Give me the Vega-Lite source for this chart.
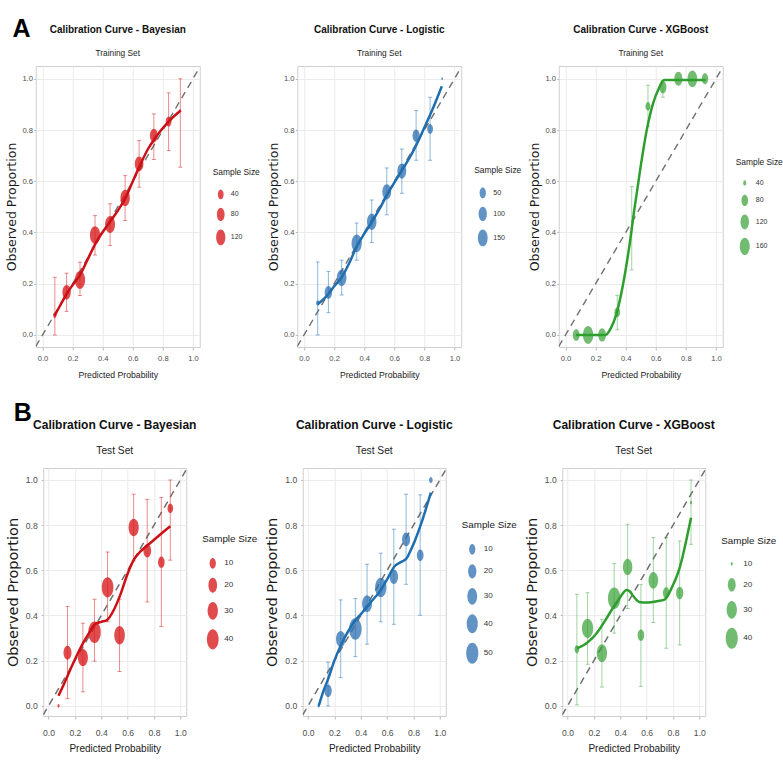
{
"$schema": "https://vega.github.io/schema/vega-lite/v6.json",
"padding": {"left": 4.5, "top": 17, "right": 0, "bottom": 0},
"background": "white",
"datasets": {
"diagT": [{"x": -0.045, "y": -0.045}, {"x": 1.045, "y": 1.045}],
"diagB": [{"x": -0.04, "y": -0.04}, {"x": 1.045, "y": 1.045}],
"A1p": [
{"x": 0.082, "y": 0.077, "lo": 0.0, "hi": 0.225, "n": 13},
{"x": 0.16, "y": 0.167, "lo": 0.092, "hi": 0.241, "n": 96},
{"x": 0.249, "y": 0.215, "lo": 0.154, "hi": 0.284, "n": 153},
{"x": 0.349, "y": 0.39, "lo": 0.312, "hi": 0.466, "n": 154},
{"x": 0.449, "y": 0.431, "lo": 0.349, "hi": 0.512, "n": 142},
{"x": 0.549, "y": 0.535, "lo": 0.447, "hi": 0.622, "n": 125},
{"x": 0.642, "y": 0.668, "lo": 0.577, "hi": 0.759, "n": 103},
{"x": 0.74, "y": 0.779, "lo": 0.685, "hi": 0.863, "n": 83},
{"x": 0.838, "y": 0.833, "lo": 0.72, "hi": 0.945, "n": 42},
{"x": 0.916, "y": 0.875, "lo": 0.655, "hi": 1.0, "n": 8}],
"A1c": [{"x":0.08,"y":0.075},{"x":0.12,"y":0.118},{"x":0.16,"y":0.16},{"x":0.2,"y":0.195},{"x":0.25,"y":0.235},{"x":0.3,"y":0.295},{"x":0.35,"y":0.355},{"x":0.4,"y":0.402},{"x":0.45,"y":0.443},{"x":0.5,"y":0.485},{"x":0.55,"y":0.533},{"x":0.6,"y":0.6},{"x":0.65,"y":0.665},{"x":0.7,"y":0.725},{"x":0.75,"y":0.77},{"x":0.8,"y":0.808},{"x":0.85,"y":0.84},{"x":0.918,"y":0.876}],
"A2p": [
{"x": 0.091, "y": 0.125, "lo": 0.0, "hi": 0.285, "n": 8},
{"x": 0.162, "y": 0.166, "lo": 0.087, "hi": 0.248, "n": 77},
{"x": 0.25, "y": 0.223, "lo": 0.156, "hi": 0.292, "n": 144},
{"x": 0.35, "y": 0.358, "lo": 0.292, "hi": 0.437, "n": 168},
{"x": 0.45, "y": 0.442, "lo": 0.361, "hi": 0.527, "n": 139},
{"x": 0.55, "y": 0.559, "lo": 0.469, "hi": 0.652, "n": 117},
{"x": 0.65, "y": 0.64, "lo": 0.553, "hi": 0.726, "n": 118},
{"x": 0.745, "y": 0.778, "lo": 0.682, "hi": 0.876, "n": 70},
{"x": 0.838, "y": 0.804, "lo": 0.682, "hi": 0.928, "n": 40},
{"x": 0.918, "y": 1.0, "lo": null, "hi": null, "n": 3}],
"A2c": [{"x":0.091,"y":0.12},{"x":0.13,"y":0.14},{"x":0.162,"y":0.16},{"x":0.2,"y":0.19},{"x":0.25,"y":0.225},{"x":0.3,"y":0.28},{"x":0.35,"y":0.345},{"x":0.4,"y":0.395},{"x":0.45,"y":0.44},{"x":0.5,"y":0.49},{"x":0.55,"y":0.545},{"x":0.6,"y":0.595},{"x":0.65,"y":0.642},{"x":0.7,"y":0.69},{"x":0.745,"y":0.74},{"x":0.8,"y":0.81},{"x":0.85,"y":0.875},{"x":0.916,"y":0.971}],
"A3p": [
{"x": 0.071, "y": 0.0, "lo": null, "hi": null, "n": 83},
{"x": 0.15, "y": 0.0, "lo": null, "hi": null, "n": 170},
{"x": 0.243, "y": 0.0, "lo": null, "hi": null, "n": 102},
{"x": 0.344, "y": 0.089, "lo": 0.02, "hi": 0.155, "n": 67},
{"x": 0.44, "y": 0.417, "lo": 0.254, "hi": 0.579, "n": 36},
{"x": 0.548, "y": 0.893, "lo": 0.815, "hi": 0.975, "n": 56},
{"x": 0.647, "y": 0.967, "lo": 0.928, "hi": 0.993, "n": 90},
{"x": 0.75, "y": 1.0, "lo": null, "hi": null, "n": 111},
{"x": 0.843, "y": 1.0, "lo": null, "hi": null, "n": 152},
{"x": 0.927, "y": 1.0, "lo": null, "hi": null, "n": 76}],
"A3c": [{"x":0.07,"y":0.0},{"x":0.15,"y":0.0},{"x":0.265,"y":0.0},{"x":0.3,"y":0.025},{"x":0.34,"y":0.085},{"x":0.38,"y":0.19},{"x":0.42,"y":0.33},{"x":0.46,"y":0.5},{"x":0.5,"y":0.66},{"x":0.54,"y":0.8},{"x":0.58,"y":0.9},{"x":0.62,"y":0.962},{"x":0.655,"y":0.995},{"x":0.93,"y":0.995}],
"B1p": [
{"x": 0.076, "y": 0.0, "lo": null, "hi": null, "n": 3},
{"x": 0.144, "y": 0.235, "lo": 0.032, "hi": 0.44, "n": 17},
{"x": 0.261, "y": 0.214, "lo": 0.062, "hi": 0.366, "n": 28},
{"x": 0.349, "y": 0.326, "lo": 0.198, "hi": 0.472, "n": 46},
{"x": 0.448, "y": 0.525, "lo": 0.372, "hi": 0.681, "n": 40},
{"x": 0.539, "y": 0.313, "lo": 0.152, "hi": 0.472, "n": 32},
{"x": 0.646, "y": 0.79, "lo": 0.642, "hi": 0.937, "n": 29},
{"x": 0.749, "y": 0.687, "lo": 0.46, "hi": 0.914, "n": 16},
{"x": 0.856, "y": 0.636, "lo": 0.351, "hi": 0.922, "n": 11},
{"x": 0.924, "y": 0.875, "lo": 0.645, "hi": 1.0, "n": 8}],
"B1c": [{"x":0.076,"y":0.045},{"x":0.12,"y":0.1},{"x":0.15,"y":0.14},{"x":0.2,"y":0.205},{"x":0.25,"y":0.265},{"x":0.3,"y":0.315},{"x":0.35,"y":0.36},{"x":0.4,"y":0.372},{"x":0.44,"y":0.378},{"x":0.5,"y":0.43},{"x":0.55,"y":0.5},{"x":0.6,"y":0.585},{"x":0.65,"y":0.65},{"x":0.7,"y":0.685},{"x":0.77,"y":0.72},{"x":0.85,"y":0.76},{"x":0.924,"y":0.795}],
"B2p": [
{"x": 0.081, "y": 0.0, "lo": null, "hi": null, "n": 2},
{"x": 0.152, "y": 0.067, "lo": 0.0, "hi": 0.193, "n": 15},
{"x": 0.248, "y": 0.296, "lo": 0.125, "hi": 0.469, "n": 27},
{"x": 0.359, "y": 0.34, "lo": 0.218, "hi": 0.475, "n": 53},
{"x": 0.448, "y": 0.452, "lo": 0.273, "hi": 0.627, "n": 31},
{"x": 0.552, "y": 0.524, "lo": 0.372, "hi": 0.676, "n": 42},
{"x": 0.651, "y": 0.571, "lo": 0.361, "hi": 0.782, "n": 21},
{"x": 0.744, "y": 0.737, "lo": 0.538, "hi": 0.937, "n": 19},
{"x": 0.851, "y": 0.667, "lo": 0.401, "hi": 0.934, "n": 12},
{"x": 0.932, "y": 1.0, "lo": null, "hi": null, "n": 3}],
"B2c": [{"x":0.081,"y":0.0},{"x":0.12,"y":0.07},{"x":0.152,"y":0.118},{"x":0.2,"y":0.2},{"x":0.253,"y":0.273},{"x":0.3,"y":0.325},{"x":0.354,"y":0.376},{"x":0.4,"y":0.405},{"x":0.443,"y":0.435},{"x":0.5,"y":0.475},{"x":0.544,"y":0.505},{"x":0.6,"y":0.56},{"x":0.658,"y":0.619},{"x":0.7,"y":0.635},{"x":0.747,"y":0.652},{"x":0.78,"y":0.69},{"x":0.81,"y":0.73},{"x":0.861,"y":0.811},{"x":0.932,"y":0.944}],
"B3p": [
{"x": 0.071, "y": 0.25, "lo": 0.004, "hi": 0.494, "n": 12},
{"x": 0.152, "y": 0.343, "lo": 0.184, "hi": 0.501, "n": 35},
{"x": 0.261, "y": 0.233, "lo": 0.083, "hi": 0.383, "n": 30},
{"x": 0.354, "y": 0.476, "lo": 0.322, "hi": 0.63, "n": 42},
{"x": 0.456, "y": 0.615, "lo": 0.431, "hi": 0.804, "n": 26},
{"x": 0.557, "y": 0.3125, "lo": 0.086, "hi": 0.538, "n": 16},
{"x": 0.651, "y": 0.556, "lo": 0.369, "hi": 0.745, "n": 27},
{"x": 0.749, "y": 0.5, "lo": 0.255, "hi": 0.745, "n": 16},
{"x": 0.851, "y": 0.5, "lo": 0.27, "hi": 0.73, "n": 18},
{"x": 0.937, "y": 0.9, "lo": 0.715, "hi": 1.0, "n": 10}],
"B3c": [{"x":0.071,"y":0.255},{"x":0.1,"y":0.262},{"x":0.139,"y":0.275},{"x":0.18,"y":0.295},{"x":0.215,"y":0.317},{"x":0.25,"y":0.345},{"x":0.291,"y":0.383},{"x":0.33,"y":0.42},{"x":0.367,"y":0.452},{"x":0.41,"y":0.49},{"x":0.448,"y":0.513},{"x":0.475,"y":0.505},{"x":0.5,"y":0.485},{"x":0.544,"y":0.46},{"x":0.6,"y":0.457},{"x":0.646,"y":0.46},{"x":0.7,"y":0.465},{"x":0.735,"y":0.47},{"x":0.772,"y":0.5},{"x":0.8,"y":0.535},{"x":0.823,"y":0.565},{"x":0.85,"y":0.61},{"x":0.873,"y":0.66},{"x":0.9,"y":0.73},{"x":0.937,"y":0.833}]
},
"config": {
"font": "Liberation Sans",
"view": {"stroke": "#cfcfcf", "strokeWidth": 1},
"axis": {"gridColor": "#ebebeb", "gridWidth": 1, "domain": false, "tickColor": "#b8b8b8", "labelColor": "#4d4d4d", "labelFont": "Liberation Sans", "titleFont": "Liberation Sans", "titleFontWeight": "normal", "titleColor": "#1a1a1a", "labelOverlap": false},
"legend": {"titleFont": "Liberation Sans", "labelFont": "Liberation Sans", "titleFontWeight": "normal", "titleColor": "#1a1a1a", "labelColor": "#333333", "layout": {"right": {"anchor": "middle"}}},
"title": {"anchor": "middle", "frame": "group", "font": "Liberation Sans", "fontWeight": "bold", "color": "#111111", "subtitleFont": "Liberation Sans", "subtitleColor": "#222222"}
},
"resolve": {"scale": {"size": "independent"}, "legend": {"size": "independent"}},
"columns": 1,
"align": "each",
"center": true,
"spacing": 20,
"concat": [
{
"title": {"text": "A", "anchor": "start", "frame": "bounds", "dx": 7, "fontSize": 25, "fontWeight": "bold", "color": "#000000", "offset": -18},
"spacing": 4.5,
"resolve": {"scale": {"size": "independent"}, "legend": {"size": "independent"}},
"hconcat": [
{
"width": 164, "height": 281,
"title": {"text": "Calibration Curve - Bayesian", "subtitle": "Training Set", "fontSize": 10, "subtitleFontSize": 8.3, "subtitlePadding": 14, "offset": 9},
"layer": [
{"data": {"name": "diagT"}, "mark": {"type": "line", "color": "#707070", "strokeDash": [7, 5], "strokeWidth": 1.4, "clip": true},
 "encoding": {
 "x": {"field": "x", "type": "quantitative", "title": "Predicted Probability", "scale": {"domain": [-0.045, 1.045], "nice": false, "zero": false}, "axis": {"values": [0, 0.2, 0.4, 0.6, 0.8, 1], "tickCount": 11, "format": ".1f", "labelFontSize": 7.6, "titleFontSize": 8.7, "tickSize": 3, "labelPadding": 4, "titlePadding": 9}},
 "y": {"field": "y", "type": "quantitative", "title": "Observed Proportion", "scale": {"domain": [-0.047, 1.05], "nice": false, "zero": false}, "axis": {"values": [0, 0.2, 0.4, 0.6, 0.8, 1], "tickCount": 11, "format": ".1f", "titleFont": "DejaVu Sans", "titleFontSize": 12.5, "labelFontSize": 7.6, "tickSize": 2, "labelPadding": 1.3, "titlePadding": 3}}}},
{"data": {"name": "A1p"}, "mark": {"type": "errorbar", "color": "#d7191c", "opacity": 0.5, "ticks": true, "size": 4, "thickness": 1},
 "encoding": {
 "x": {"field": "x", "type": "quantitative", "title": "Predicted Probability"},
 "y": {"field": "lo", "type": "quantitative", "title": "Observed Proportion"},
 "y2": {"field": "hi"}}},
{"data": {"name": "A1p"}, "mark": {"type": "point", "filled": true, "shape": "M-0.58,0A0.58,1,0,1,0,0.58,0A0.58,1,0,1,0,-0.58,0Z", "color": "#d7191c", "opacity": 0.78, "strokeWidth": 0},
 "encoding": {
 "x": {"field": "x", "type": "quantitative", "title": "Predicted Probability"},
 "y": {"field": "y", "type": "quantitative", "title": "Observed Proportion"},
 "size": {"field": "n", "type": "quantitative", "scale": {"domain": [8, 10.92, 19.68, 37.2, 66.4, 110.2, 154], "range": [8.7, 25.4, 50.7, 91.1, 150.8, 233.8, 313.3]},
  "legend": {"title": "Sample Size", "values": [40, 80, 120], "symbolType": "M-0.58,0A0.58,1,0,1,0,0.58,0A0.58,1,0,1,0,-0.58,0Z", "symbolFillColor": "#d7191c", "symbolOpacity": 0.78, "symbolStrokeWidth": 0, "titleFontSize": 8.4, "labelFontSize": 7, "rowPadding": 8, "offset": 13, "labelOffset": 2, "titlePadding": 13}}}},
{"data": {"name": "A1c"}, "mark": {"type": "line", "color": "#cc1016", "strokeWidth": 2.5, "interpolate": "monotone"},
 "encoding": {"x": {"field": "x", "type": "quantitative", "title": "Predicted Probability"}, "y": {"field": "y", "type": "quantitative", "title": "Observed Proportion"}}}
]
},
{
"width": 164, "height": 281,
"title": {"text": "Calibration Curve - Logistic", "subtitle": "Training Set", "fontSize": 10, "subtitleFontSize": 8.3, "subtitlePadding": 14, "offset": 9},
"layer": [
{"data": {"name": "diagT"}, "mark": {"type": "line", "color": "#707070", "strokeDash": [7, 5], "strokeWidth": 1.4, "clip": true},
 "encoding": {
 "x": {"field": "x", "type": "quantitative", "title": "Predicted Probability", "scale": {"domain": [-0.045, 1.045], "nice": false, "zero": false}, "axis": {"values": [0, 0.2, 0.4, 0.6, 0.8, 1], "tickCount": 11, "format": ".1f", "labelFontSize": 7.6, "titleFontSize": 8.7, "tickSize": 3, "labelPadding": 4, "titlePadding": 9}},
 "y": {"field": "y", "type": "quantitative", "title": "Observed Proportion", "scale": {"domain": [-0.047, 1.05], "nice": false, "zero": false}, "axis": {"values": [0, 0.2, 0.4, 0.6, 0.8, 1], "tickCount": 11, "format": ".1f", "titleFont": "DejaVu Sans", "titleFontSize": 12.5, "labelFontSize": 7.6, "tickSize": 2, "labelPadding": 1.3, "titlePadding": 3}}}},
{"data": {"name": "A2p"}, "mark": {"type": "errorbar", "color": "#2171b5", "opacity": 0.5, "ticks": true, "size": 4, "thickness": 1},
 "encoding": {
 "x": {"field": "x", "type": "quantitative", "title": "Predicted Probability"},
 "y": {"field": "lo", "type": "quantitative", "title": "Observed Proportion"},
 "y2": {"field": "hi"}}},
{"data": {"name": "A2p"}, "mark": {"type": "point", "filled": true, "shape": "M-0.58,0A0.58,1,0,1,0,0.58,0A0.58,1,0,1,0,-0.58,0Z", "color": "#2c6fb0", "opacity": 0.75, "strokeWidth": 0},
 "encoding": {
 "x": {"field": "x", "type": "quantitative", "title": "Predicted Probability"},
 "y": {"field": "y", "type": "quantitative", "title": "Observed Proportion"},
 "size": {"field": "n", "type": "quantitative", "scale": {"domain": [3, 6.3, 16.2, 36, 69, 118.5, 168], "range": [8.7, 25.4, 50.7, 91.1, 150.8, 233.8, 313.3]},
  "legend": {"title": "Sample Size", "values": [50, 100, 150], "symbolType": "M-0.58,0A0.58,1,0,1,0,0.58,0A0.58,1,0,1,0,-0.58,0Z", "symbolFillColor": "#2c6fb0", "symbolOpacity": 0.75, "symbolStrokeWidth": 0, "titleFontSize": 8.4, "labelFontSize": 7, "rowPadding": 8, "offset": 13, "labelOffset": 2, "titlePadding": 13}}}},
{"data": {"name": "A2c"}, "mark": {"type": "line", "color": "#1f6eb0", "strokeWidth": 2.5, "interpolate": "monotone"},
 "encoding": {"x": {"field": "x", "type": "quantitative", "title": "Predicted Probability"}, "y": {"field": "y", "type": "quantitative", "title": "Observed Proportion"}}}
]
},
{
"width": 164, "height": 281,
"title": {"text": "Calibration Curve - XGBoost", "subtitle": "Training Set", "fontSize": 10, "subtitleFontSize": 8.3, "subtitlePadding": 14, "offset": 9},
"layer": [
{"data": {"name": "diagT"}, "mark": {"type": "line", "color": "#707070", "strokeDash": [7, 5], "strokeWidth": 1.4, "clip": true},
 "encoding": {
 "x": {"field": "x", "type": "quantitative", "title": "Predicted Probability", "scale": {"domain": [-0.045, 1.045], "nice": false, "zero": false}, "axis": {"values": [0, 0.2, 0.4, 0.6, 0.8, 1], "tickCount": 11, "format": ".1f", "labelFontSize": 7.6, "titleFontSize": 8.7, "tickSize": 3, "labelPadding": 4, "titlePadding": 9}},
 "y": {"field": "y", "type": "quantitative", "title": "Observed Proportion", "scale": {"domain": [-0.047, 1.05], "nice": false, "zero": false}, "axis": {"values": [0, 0.2, 0.4, 0.6, 0.8, 1], "tickCount": 11, "format": ".1f", "titleFont": "DejaVu Sans", "titleFontSize": 12.5, "labelFontSize": 7.6, "tickSize": 2, "labelPadding": 1.3, "titlePadding": 3}}}},
{"data": {"name": "A3p"}, "mark": {"type": "errorbar", "color": "#33a033", "opacity": 0.45, "ticks": true, "size": 4, "thickness": 1},
 "encoding": {
 "x": {"field": "x", "type": "quantitative", "title": "Predicted Probability"},
 "y": {"field": "lo", "type": "quantitative", "title": "Observed Proportion"},
 "y2": {"field": "hi"}}},
{"data": {"name": "A3p"}, "mark": {"type": "point", "filled": true, "shape": "M-0.58,0A0.58,1,0,1,0,0.58,0A0.58,1,0,1,0,-0.58,0Z", "color": "#35a035", "opacity": 0.7, "strokeWidth": 0},
 "encoding": {
 "x": {"field": "x", "type": "quantitative", "title": "Predicted Probability"},
 "y": {"field": "y", "type": "quantitative", "title": "Observed Proportion"},
 "size": {"field": "n", "type": "quantitative", "scale": {"domain": [36, 38.68, 46.72, 62.8, 89.6, 129.8, 170], "range": [8.7, 25.4, 50.7, 91.1, 150.8, 233.8, 313.3]},
  "legend": {"title": "Sample Size", "values": [40, 80, 120, 160], "symbolType": "M-0.58,0A0.58,1,0,1,0,0.58,0A0.58,1,0,1,0,-0.58,0Z", "symbolFillColor": "#35a035", "symbolOpacity": 0.7, "symbolStrokeWidth": 0, "titleFontSize": 8.4, "labelFontSize": 7, "rowPadding": 8, "offset": 13, "labelOffset": 2, "titlePadding": 13}}}},
{"data": {"name": "A3c"}, "mark": {"type": "line", "color": "#2e9e2e", "strokeWidth": 2.5, "interpolate": "monotone"},
 "encoding": {"x": {"field": "x", "type": "quantitative", "title": "Predicted Probability"}, "y": {"field": "y", "type": "quantitative", "title": "Observed Proportion"}}}
]
}
]
},
{
"title": {"text": "B", "anchor": "start", "frame": "bounds", "dx": 9, "fontSize": 25, "fontWeight": "bold", "color": "#000000", "offset": -7},
"spacing": 5.5,
"resolve": {"scale": {"size": "independent"}, "legend": {"size": "independent"}},
"hconcat": [
{
"width": 143, "height": 248,
"title": {"text": "Calibration Curve - Bayesian", "subtitle": "Test Set", "fontSize": 12, "subtitleFontSize": 10.2, "subtitlePadding": 14, "offset": 10.5},
"layer": [
{"data": {"name": "diagB"}, "mark": {"type": "line", "color": "#707070", "strokeDash": [7, 5], "strokeWidth": 1.5, "clip": true},
 "encoding": {
 "x": {"field": "x", "type": "quantitative", "title": "Predicted Probability", "scale": {"domain": [-0.04, 1.045], "nice": false, "zero": false}, "axis": {"values": [0, 0.2, 0.4, 0.6, 0.8, 1], "tickCount": 11, "format": ".1f", "labelFontSize": 8.6, "titleFontSize": 10, "tickSize": 3, "labelPadding": 9, "titlePadding": 7}},
 "y": {"field": "y", "type": "quantitative", "title": "Observed Proportion", "scale": {"domain": [-0.045, 1.053], "nice": false, "zero": false}, "axis": {"values": [0, 0.2, 0.4, 0.6, 0.8, 1], "tickCount": 11, "format": ".1f", "titleFont": "DejaVu Sans", "titleFontSize": 14.5, "labelFontSize": 8.6, "tickSize": 2, "labelPadding": 4, "titlePadding": 5}}}},
{"data": {"name": "B1p"}, "mark": {"type": "errorbar", "color": "#d7191c", "opacity": 0.5, "ticks": true, "size": 4, "thickness": 1},
 "encoding": {
 "x": {"field": "x", "type": "quantitative", "title": "Predicted Probability"},
 "y": {"field": "lo", "type": "quantitative", "title": "Observed Proportion"},
 "y2": {"field": "hi"}}},
{"data": {"name": "B1p"}, "mark": {"type": "point", "filled": true, "shape": "M-0.58,0A0.58,1,0,1,0,0.58,0A0.58,1,0,1,0,-0.58,0Z", "color": "#d7191c", "opacity": 0.78, "strokeWidth": 0},
 "encoding": {
 "x": {"field": "x", "type": "quantitative", "title": "Predicted Probability"},
 "y": {"field": "y", "type": "quantitative", "title": "Observed Proportion"},
 "size": {"field": "n", "type": "quantitative", "scale": {"domain": [3, 3.86, 6.44, 11.6, 20.2, 33.1, 46], "range": [13, 37.6, 75, 134.7, 222.7, 345.1, 462.3]},
  "legend": {"title": "Sample Size", "values": [10, 20, 30, 40], "symbolType": "M-0.58,0A0.58,1,0,1,0,0.58,0A0.58,1,0,1,0,-0.58,0Z", "symbolFillColor": "#d7191c", "symbolOpacity": 0.78, "symbolStrokeWidth": 0, "titleFontSize": 9.8, "labelFontSize": 8.1, "rowPadding": 9, "offset": 16, "labelOffset": 1, "titlePadding": 14}}}},
{"data": {"name": "B1c"}, "mark": {"type": "line", "color": "#cc1016", "strokeWidth": 2.5, "interpolate": "monotone"},
 "encoding": {"x": {"field": "x", "type": "quantitative", "title": "Predicted Probability"}, "y": {"field": "y", "type": "quantitative", "title": "Observed Proportion"}}}
]
},
{
"width": 143, "height": 248,
"title": {"text": "Calibration Curve - Logistic", "subtitle": "Test Set", "fontSize": 12, "subtitleFontSize": 10.2, "subtitlePadding": 14, "offset": 10.5},
"layer": [
{"data": {"name": "diagB"}, "mark": {"type": "line", "color": "#707070", "strokeDash": [7, 5], "strokeWidth": 1.5, "clip": true},
 "encoding": {
 "x": {"field": "x", "type": "quantitative", "title": "Predicted Probability", "scale": {"domain": [-0.04, 1.045], "nice": false, "zero": false}, "axis": {"values": [0, 0.2, 0.4, 0.6, 0.8, 1], "tickCount": 11, "format": ".1f", "labelFontSize": 8.6, "titleFontSize": 10, "tickSize": 3, "labelPadding": 9, "titlePadding": 7}},
 "y": {"field": "y", "type": "quantitative", "title": "Observed Proportion", "scale": {"domain": [-0.045, 1.053], "nice": false, "zero": false}, "axis": {"values": [0, 0.2, 0.4, 0.6, 0.8, 1], "tickCount": 11, "format": ".1f", "titleFont": "DejaVu Sans", "titleFontSize": 14.5, "labelFontSize": 8.6, "tickSize": 2, "labelPadding": 4, "titlePadding": 5}}}},
{"data": {"name": "B2p"}, "mark": {"type": "errorbar", "color": "#2171b5", "opacity": 0.5, "ticks": true, "size": 4, "thickness": 1},
 "encoding": {
 "x": {"field": "x", "type": "quantitative", "title": "Predicted Probability"},
 "y": {"field": "lo", "type": "quantitative", "title": "Observed Proportion"},
 "y2": {"field": "hi"}}},
{"data": {"name": "B2p"}, "mark": {"type": "point", "filled": true, "shape": "M-0.58,0A0.58,1,0,1,0,0.58,0A0.58,1,0,1,0,-0.58,0Z", "color": "#2c6fb0", "opacity": 0.75, "strokeWidth": 0},
 "encoding": {
 "x": {"field": "x", "type": "quantitative", "title": "Predicted Probability"},
 "y": {"field": "y", "type": "quantitative", "title": "Observed Proportion"},
 "size": {"field": "n", "type": "quantitative", "scale": {"domain": [2, 3.02, 6.08, 12.2, 22.4, 37.7, 53], "range": [13, 37.6, 75, 134.7, 222.7, 345.1, 462.3]},
  "legend": {"title": "Sample Size", "values": [10, 20, 30, 40, 50], "symbolType": "M-0.58,0A0.58,1,0,1,0,0.58,0A0.58,1,0,1,0,-0.58,0Z", "symbolFillColor": "#2c6fb0", "symbolOpacity": 0.75, "symbolStrokeWidth": 0, "titleFontSize": 9.8, "labelFontSize": 8.1, "rowPadding": 9, "offset": 16, "labelOffset": 1, "titlePadding": 14}}}},
{"data": {"name": "B2c"}, "mark": {"type": "line", "color": "#1f6eb0", "strokeWidth": 2.5, "interpolate": "monotone"},
 "encoding": {"x": {"field": "x", "type": "quantitative", "title": "Predicted Probability"}, "y": {"field": "y", "type": "quantitative", "title": "Observed Proportion"}}}
]
},
{
"width": 143, "height": 248,
"title": {"text": "Calibration Curve - XGBoost", "subtitle": "Test Set", "fontSize": 12, "subtitleFontSize": 10.2, "subtitlePadding": 14, "offset": 10.5},
"layer": [
{"data": {"name": "diagB"}, "mark": {"type": "line", "color": "#707070", "strokeDash": [7, 5], "strokeWidth": 1.5, "clip": true},
 "encoding": {
 "x": {"field": "x", "type": "quantitative", "title": "Predicted Probability", "scale": {"domain": [-0.04, 1.045], "nice": false, "zero": false}, "axis": {"values": [0, 0.2, 0.4, 0.6, 0.8, 1], "tickCount": 11, "format": ".1f", "labelFontSize": 8.6, "titleFontSize": 10, "tickSize": 3, "labelPadding": 9, "titlePadding": 7}},
 "y": {"field": "y", "type": "quantitative", "title": "Observed Proportion", "scale": {"domain": [-0.045, 1.053], "nice": false, "zero": false}, "axis": {"values": [0, 0.2, 0.4, 0.6, 0.8, 1], "tickCount": 11, "format": ".1f", "titleFont": "DejaVu Sans", "titleFontSize": 14.5, "labelFontSize": 8.6, "tickSize": 2, "labelPadding": 4, "titlePadding": 5}}}},
{"data": {"name": "B3p"}, "mark": {"type": "errorbar", "color": "#33a033", "opacity": 0.45, "ticks": true, "size": 4, "thickness": 1},
 "encoding": {
 "x": {"field": "x", "type": "quantitative", "title": "Predicted Probability"},
 "y": {"field": "lo", "type": "quantitative", "title": "Observed Proportion"},
 "y2": {"field": "hi"}}},
{"data": {"name": "B3p"}, "mark": {"type": "point", "filled": true, "shape": "M-0.58,0A0.58,1,0,1,0,0.58,0A0.58,1,0,1,0,-0.58,0Z", "color": "#35a035", "opacity": 0.7, "strokeWidth": 0},
 "encoding": {
 "x": {"field": "x", "type": "quantitative", "title": "Predicted Probability"},
 "y": {"field": "y", "type": "quantitative", "title": "Observed Proportion"},
 "size": {"field": "n", "type": "quantitative", "scale": {"domain": [10, 10.64, 12.56, 16.4, 22.8, 32.4, 42], "range": [13, 37.6, 75, 134.7, 222.7, 345.1, 462.3]},
  "legend": {"title": "Sample Size", "values": [10, 20, 30, 40], "symbolType": "M-0.58,0A0.58,1,0,1,0,0.58,0A0.58,1,0,1,0,-0.58,0Z", "symbolFillColor": "#35a035", "symbolOpacity": 0.7, "symbolStrokeWidth": 0, "titleFontSize": 9.8, "labelFontSize": 8.1, "rowPadding": 9, "offset": 16, "labelOffset": 1, "titlePadding": 14}}}},
{"data": {"name": "B3c"}, "mark": {"type": "line", "color": "#2e9e2e", "strokeWidth": 2.5, "interpolate": "monotone"},
 "encoding": {"x": {"field": "x", "type": "quantitative", "title": "Predicted Probability"}, "y": {"field": "y", "type": "quantitative", "title": "Observed Proportion"}}}
]
}
]
}
]
}
